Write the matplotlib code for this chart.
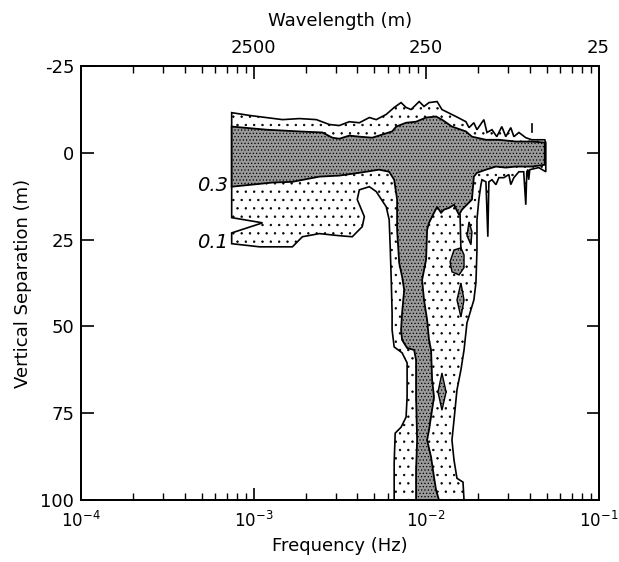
import matplotlib
matplotlib.use("Agg")
import matplotlib.pyplot as plt
import numpy as np

# contour outlines: log10(frequency in Hz), vertical separation (m)
# 0.1 coherence contour (light stipple)
c01_logf = [-3.127, -3.023, -2.832, -2.734, -2.636, -2.561, -2.503, -2.445, -2.387, -2.329,
            -2.289, -2.231, -2.185, -2.145, -2.116, -2.087, -2.040, -2.012, -1.983, -1.936,
            -1.908, -1.827, -1.769, -1.751, -1.723, -1.705, -1.665, -1.647, -1.618, -1.590,
            -1.561, -1.538, -1.509, -1.491, -1.462, -1.422, -1.387, -1.347, -1.312, -1.306,
            -1.306, -1.347, -1.399, -1.405, -1.410, -1.416, -1.422, -1.434, -1.462, -1.491,
            -1.509, -1.520, -1.549, -1.578, -1.595, -1.618, -1.636, -1.642, -1.653, -1.676,
            -1.682, -1.694, -1.705, -1.705, -1.711, -1.723, -1.763, -1.780, -1.798, -1.821,
            -1.838, -1.850, -1.838, -1.821, -1.786, -1.780, -2.185, -2.185, -2.179, -2.145,
            -2.116, -2.110, -2.110, -2.139, -2.185, -2.197, -2.197, -2.202, -2.208, -2.214,
            -2.231, -2.289, -2.329, -2.387, -2.399, -2.358, -2.370, -2.428, -2.503, -2.618,
            -2.717, -2.775, -2.965, -3.127, -3.127, -2.948, -3.127]
c01_sep = [-11.5, -10.7, -9.5, -9.8, -9.5, -8.1, -7.8, -8.9, -8.6, -10.1,
           -9.5, -11.0, -13.0, -14.4, -13.0, -12.4, -14.7, -13.3, -14.4, -14.7,
           -12.4, -10.4, -8.9, -7.2, -8.6, -6.6, -9.5, -5.8, -6.6, -4.6,
           -7.5, -4.6, -7.2, -4.6, -5.8, -4.3, -3.7, -3.7, -3.7, -2.9,
           5.5, 4.3, 4.9, 7.8, 4.9, 5.5, 15.0, 5.5, 5.5, 7.2,
           9.2, 6.3, 7.2, 7.2, 9.2, 7.8, 8.4, 24.2, 8.4, 7.8,
           9.2, 13.5, 19.3, 28.0, 37.5, 42.4, 49.0, 56.8, 62.5, 68.3,
           76.9, 82.7, 88.5, 93.7, 94.8, 100.0, 100.0, 89.3, 80.7, 79.0,
           76.1, 70.3, 60.5, 57.6, 55.9, 51.0, 46.1, 36.6, 27.1, 19.3,
           15.6, 11.2, 9.8, 10.7, 13.5, 18.4, 21.3, 24.2, 23.9, 23.3,
           24.2, 27.1, 27.1, 26.2, 23.1, 20.2, 18.7]

# 0.3 coherence contour (dark stipple)
c03_logf = [-3.127, -2.925, -2.734, -2.601, -2.543, -2.503, -2.445, -2.387, -2.312, -2.254,
            -2.197, -2.173, -2.116, -2.058, -2.000, -1.942, -1.908, -1.850, -1.769, -1.734,
            -1.653, -1.578, -1.480, -1.387, -1.312, -1.312, -1.387, -1.480, -1.538, -1.595,
            -1.653, -1.705, -1.723, -1.734, -1.792, -1.809, -1.838, -1.867, -1.896, -1.913,
            -1.936, -1.960, -1.983, -1.994, -2.000, -2.023, -2.012, -1.994, -1.983, -1.971,
            -1.965, -1.954, -1.983, -1.994, -1.971, -1.954, -1.942, -1.925, -2.058, -2.058,
            -2.052, -2.058, -2.058, -2.069, -2.110, -2.139, -2.145, -2.139, -2.127, -2.139,
            -2.156, -2.168, -2.168, -2.185, -2.214, -2.272, -2.387, -2.503, -2.618, -2.775,
            -2.890, -3.127]
c03_sep = [-7.5, -6.6, -6.1, -5.8, -4.3, -4.0, -4.9, -4.6, -4.3, -5.2,
           -6.1, -7.5, -8.6, -8.9, -10.1, -10.4, -9.5, -7.5, -6.1, -4.6,
           -3.7, -3.7, -3.2, -3.2, -2.9, 3.5, 4.0, 4.0, 4.3, 4.0,
           4.9, 5.8, 6.9, 13.5, 16.4, 17.9, 15.0, 15.9, 16.4, 17.3,
           15.6, 17.9, 20.2, 22.2, 30.8, 36.6, 42.4, 48.1, 53.9, 56.8,
           65.4, 70.3, 79.8, 82.7, 87.6, 93.4, 97.1, 100.0, 100.0, 91.4,
           82.7, 70.3, 59.7, 56.8, 56.2, 53.9, 51.0, 46.1, 39.5, 35.7,
           31.7, 22.2, 13.5, 7.8, 5.5, 4.9, 5.8, 6.6, 6.9, 8.4,
           8.6, 9.8]

# small 0.3 islands inside the 0.1 area
isl_logf = [
    [-1.838, -1.798, -1.780, -1.780, -1.809, -1.850, -1.861],
    [-1.751, -1.734, -1.740, -1.763],
    [-1.798, -1.780, -1.798, -1.821],
    [-1.908, -1.884, -1.908, -1.931],
]
isl_sep = [
    [28.0, 27.4, 29.4, 33.1, 35.2, 34.3, 31.4],
    [19.9, 22.8, 26.5, 23.9],
    [37.5, 42.4, 47.3, 42.4],
    [63.4, 68.9, 74.1, 68.9],
]
# thin contour strokes
line_logf = [[-1.803, -1.798], [-1.387, -1.387]]
line_sep = [[17.9, 28.0], [-8.1, -5.8]]

level_labels = ["0.3", "0.1"]
label_logf = [-3.15, -3.15]
label_sep = [9.5, 26.0]

freq_ticks = [1e-4, 1e-3, 1e-2, 1e-1]
freq_labels = [r"$10^{-4}$", r"$10^{-3}$", r"$10^{-2}$", r"$10^{-1}$"]
wave_ticks = [1e-3, 1e-2, 1e-1]
wave_labels = ["2500", "250", "25"]
sep_ticks = [-25, 0, 25, 50, 75, 100]

plt.rcParams["hatch.linewidth"] = 0.5
plt.rcParams["font.size"] = 13
plt.rcParams["axes.unicode_minus"] = False

fig = plt.figure(figsize=(6.19, 5.62), dpi=100)
ax = fig.add_axes([0.131, 0.110, 0.836, 0.773])

ax.fill(10 ** np.array(c01_logf), c01_sep, facecolor="white", edgecolor="black",
        hatch="..", linewidth=1.2, zorder=2)
ax.fill(10 ** np.array(c03_logf), c03_sep, facecolor="#999999", edgecolor="black",
        hatch=".....", linewidth=1.3, zorder=3)
for lf, sp in zip(isl_logf, isl_sep):
    ax.fill(10 ** np.array(lf), sp, facecolor="#999999", edgecolor="black",
            hatch=".....", linewidth=1.0, zorder=3)
for lf, sp in zip(line_logf, line_sep):
    ax.plot(10 ** np.array(lf), sp, color="black", linewidth=1.2, zorder=4)

for txt, lf, sp in zip(level_labels, label_logf, label_sep):
    ax.text(10 ** lf, sp, txt, ha="right", va="center", fontsize=14, style="italic")

ax.set_xscale("log")
ax.set_xlim(1e-4, 1e-1)
ax.set_ylim(100, -25)
ax.set_xticks(freq_ticks)
ax.set_xticklabels(freq_labels)
ax.set_yticks(sep_ticks)
ax.set_xlabel("Frequency (Hz)", fontsize=13, labelpad=4)
ax.set_ylabel("Vertical Separation (m)", fontsize=13, labelpad=6)
ax.tick_params(which="both", direction="in", right=True)
ax.tick_params(which="major", length=9, width=1.2)
ax.tick_params(which="minor", length=5, width=1.0)
ax.tick_params(axis="x", which="major", pad=8, labelsize=12)
ax.tick_params(axis="y", which="major", pad=5)
ax.tick_params(axis="y", which="minor", left=False, right=False)

ax2 = ax.twiny()
ax2.set_xscale("log")
ax2.set_xlim(ax.get_xlim())
ax2.set_xticks(wave_ticks)
ax2.set_xticklabels(wave_labels)
ax2.set_xlabel("Wavelength (m)", fontsize=13, labelpad=10)
ax2.tick_params(which="both", direction="in")
ax2.tick_params(which="major", length=9, width=1.2, pad=6)
ax2.tick_params(which="minor", length=5, width=1.0)

for a in (ax, ax2):
    for s in a.spines.values():
        s.set_linewidth(1.3)

fig.savefig("out.png", dpi=100)
